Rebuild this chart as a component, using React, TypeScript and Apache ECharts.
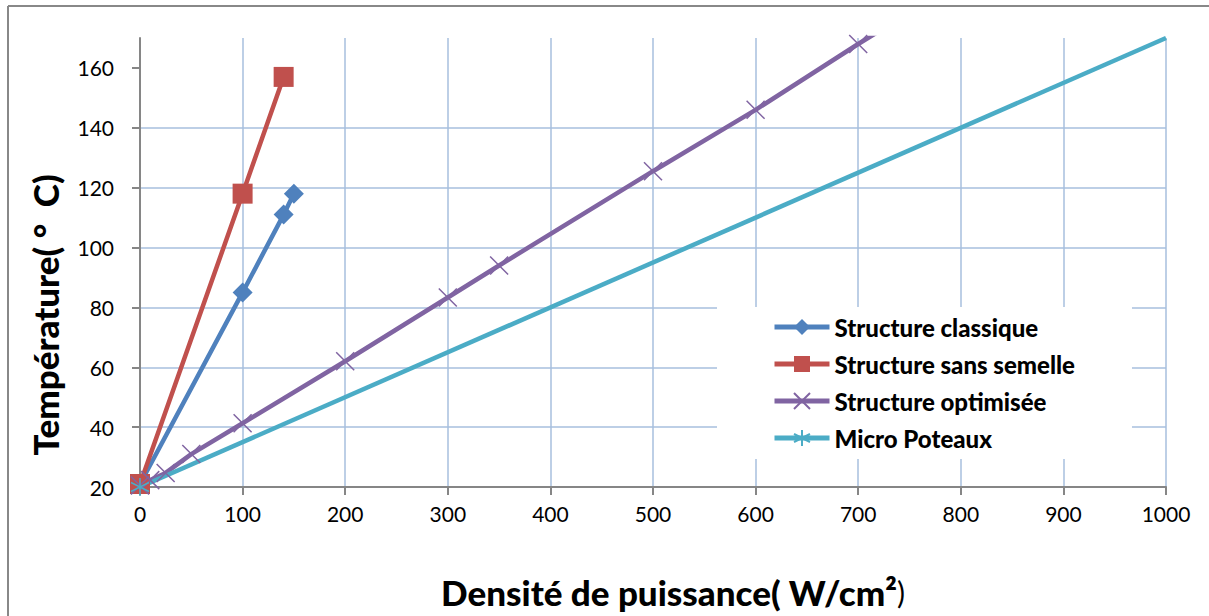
import React, { useEffect, useRef } from 'react';
import * as echarts from 'echarts';

const seriesNames = ['Structure classique', 'Structure sans semelle', 'Structure optimisée', 'Micro Poteaux'];
const seriesColors = ['#4F81BD', '#C0504D', '#8064A2', '#4BACC6'];

const classiqueX = [0, 100, 140, 150];
const classiqueY = [21, 85, 111, 118];

const sansSemelleX = [0, 100, 140];
const sansSemelleY = [21, 118, 157];

const optimiseeX = [0, 10, 25, 50, 100, 200, 300, 350, 500, 600, 700, 800];
const optimiseeY = [20.5, 22.3, 24.7, 31, 41.3, 62, 83.3, 94, 125.5, 146, 168, 189];

const microX = [0, 1000];
const microY = [20, 170];

const yTicks = [20, 40, 60, 80, 100, 120, 140, 160];
const xTicks = [0, 100, 200, 300, 400, 500, 600, 700, 800, 900, 1000];

const xTitle = 'Densité de puissance( W/cm²';
const xTitleEnd = ')';
const yTitle = 'Température( °  C)';

const FONT = 'Lato, "Open Sans", sans-serif';

const crossPath = 'path://M0,0L10,10M10,0L0,10';
const starPath = 'path://M5,0L5,10M0,2.5L10,7.5M0,7.5L10,2.5';

function pairs(xs: number[], ys: number[]) {
  return xs.map((x, i) => [x, ys[i]]);
}

export default function App() {
  const ref = useRef<HTMLDivElement>(null);
  useEffect(() => {
    if (!ref.current) return;
    const chart = echarts.init(ref.current, undefined, { renderer: 'svg' });
    const microData: any[] = pairs(microX, microY).map((p, i) =>
      i === microX.length - 1 ? { value: p, symbol: 'none' } : p
    );
    chart.setOption({
      animation: false,
      backgroundColor: '#ffffff',
      grid: { left: 140, right: 43, top: 38, bottom: 129, containLabel: false },
      xAxis: {
        type: 'value',
        min: 0,
        max: 1000,
        interval: 100,
        axisLine: { show: true, onZero: false, lineStyle: { color: '#868686', width: 2 } },
        axisTick: { show: true, length: 8, lineStyle: { color: '#868686', width: 2 } },
        axisLabel: {
          color: '#000',
          fontFamily: FONT,
          fontSize: 21,
          margin: 16,
          customValues: xTicks,
          formatter: (v: number) => String(v),
        },
        splitLine: { show: true, lineStyle: { color: '#A7BFDE', width: 1.5 } },
      },
      yAxis: {
        type: 'value',
        min: 20,
        max: 170,
        interval: 20,
        axisLine: { show: true, onZero: false, lineStyle: { color: '#868686', width: 2 } },
        axisTick: { show: true, length: 8, lineStyle: { color: '#868686', width: 2 }, customValues: yTicks },
        axisLabel: {
          color: '#000',
          fontFamily: FONT,
          fontSize: 21,
          margin: 26,
          customValues: yTicks,
          formatter: (v: number) => String(v),
        },
        splitLine: { show: true, showMaxLine: false, lineStyle: { color: '#A7BFDE', width: 1.5 } },
      },
      legend: {
        orient: 'vertical',
        left: 717,
        top: 307,
        padding: [8, 57, 9, 55],
        backgroundColor: '#ffffff',
        itemWidth: 55,
        itemHeight: 20,
        itemGap: 13,
        lineStyle: { width: 5 },
        textStyle: { color: '#000', fontFamily: FONT, fontWeight: 900, fontSize: 24 },
        data: seriesNames,
      },
      graphic: [
        { type: 'line', shape: { x1: 8, y1: 6, x2: 1300, y2: 6 }, style: { stroke: '#888888', lineWidth: 2 } },
        { type: 'line', shape: { x1: 8, y1: 6, x2: 8, y2: 700 }, style: { stroke: '#888888', lineWidth: 2 } },
        {
          type: 'text',
          x: 45,
          y: 315,
          rotation: Math.PI / 2,
          style: {
            text: yTitle,
            fill: '#000',
            font: `900 35px ${FONT}`,
            align: 'center',
            verticalAlign: 'middle',
          },
        },
        {
          type: 'text',
          x: 673,
          y: 592,
          style: {
            text: `{b|${xTitle}}{n|${xTitleEnd}}`,
            align: 'center',
            verticalAlign: 'middle',
            rich: {
              b: { fontFamily: FONT, fontWeight: 900, fontSize: 35, fill: '#000' },
              n: { fontFamily: FONT, fontWeight: 'normal', fontSize: 30, fill: '#000' },
            },
          },
        },
      ],
      series: [
        {
          name: seriesNames[0],
          type: 'line',
          data: pairs(classiqueX, classiqueY),
          symbol: 'diamond',
          symbolSize: 20,
          lineStyle: { color: seriesColors[0], width: 4.5 },
          itemStyle: { color: seriesColors[0] },
        },
        {
          name: seriesNames[1],
          type: 'line',
          data: pairs(sansSemelleX, sansSemelleY),
          symbol: 'rect',
          symbolSize: 20,
          lineStyle: { color: seriesColors[1], width: 4.5 },
          itemStyle: { color: seriesColors[1] },
        },
        {
          name: seriesNames[2],
          type: 'line',
          data: pairs(optimiseeX, optimiseeY),
          symbol: crossPath,
          symbolSize: 18,
          lineStyle: { color: seriesColors[2], width: 4.5 },
          itemStyle: { color: 'none', borderColor: seriesColors[2], borderWidth: 1.5 },
        },
        {
          name: seriesNames[3],
          type: 'line',
          data: microData,
          symbol: starPath,
          symbolSize: 18,
          lineStyle: { color: seriesColors[3], width: 4.5 },
          itemStyle: { color: 'none', borderColor: seriesColors[3], borderWidth: 1.5 },
        },
      ],
    });
    return () => chart.dispose();
  }, []);
  return (
    <div
      ref={ref}
      style={{ position: 'fixed', left: 0, top: 0, width: 1209, height: 616, background: '#fff' }}
    />
  );
}
